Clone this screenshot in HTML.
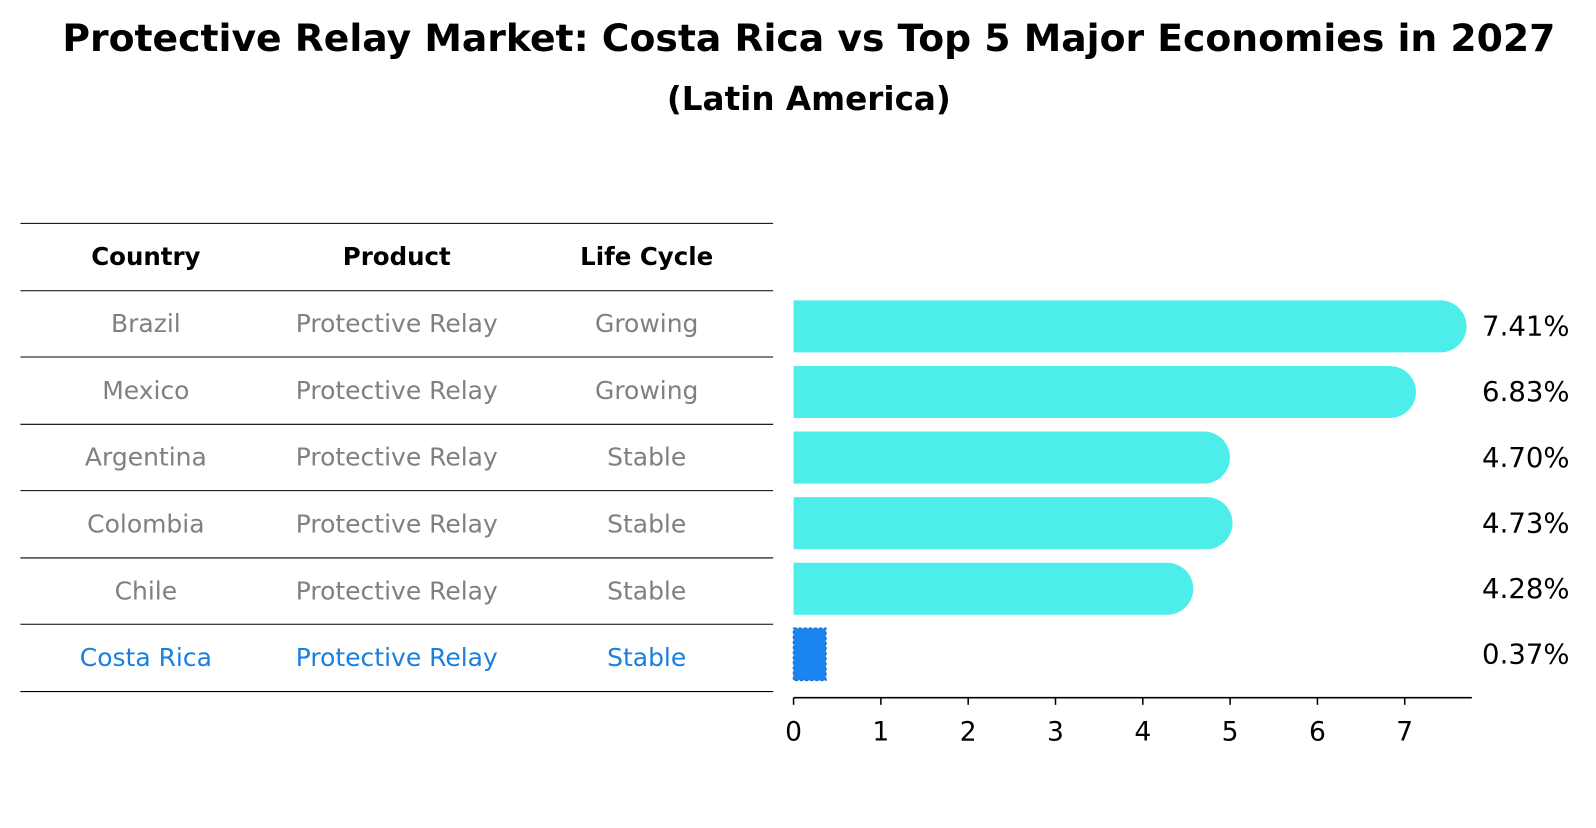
<!DOCTYPE html>
<html><head><meta charset="utf-8"><style>
body{margin:0;background:#fff;font-family:"Liberation Sans","DejaVu Sans",sans-serif;}
svg text{font-family:"DejaVu Sans","Liberation Sans",sans-serif;}
</style></head><body>
<svg width="1596" height="823" xmlns="http://www.w3.org/2000/svg">
<g transform="scale(1.02)">
<text x="793" y="50" text-anchor="middle" font-size="37" font-weight="bold">Protective Relay Market: Costa Rica vs Top 5 Major Economies in 2027</text>
<text x="793" y="108" text-anchor="middle" font-size="32" font-weight="bold">(Latin America)</text>
<g id="table"></g>
<g id="bars"></g>
</g>
</svg>
<script>
const countries=["Brazil","Mexico","Argentina","Colombia","Chile","Costa Rica"];
const products=["Protective Relay","Protective Relay","Protective Relay","Protective Relay","Protective Relay","Protective Relay"];
const lifeCycles=["Growing","Growing","Stable","Stable","Stable","Stable"];
const values=[7.41,6.83,4.70,4.73,4.28,0.37];
const ticks=[0,1,2,3,4,5,6,7];
const NS="http://www.w3.org/2000/svg";
function mk(tag,attrs,parent,text){const e=document.createElementNS(NS,tag);for(const k in attrs)e.setAttribute(k,attrs[k]);if(text!==undefined)e.textContent=text;parent.appendChild(e);return e;}
const tbl=document.getElementById('table');
const lineYs=[219,285,350,416,481,547,612,678];
lineYs.forEach(y=>{const l=mk('line',{x1:20,x2:758,y1:y,y2:y,stroke:'#000','stroke-width':1},tbl);

});
const colX=[143,389,634];
["Country","Product","Life Cycle"].forEach((h,i)=>{const t=mk('text',{x:colX[i],y:260,'text-anchor':'middle','font-size':24,'font-weight':'bold'},tbl,h);

});
countries.forEach((c,r)=>{const y=(lineYs[r+1]+lineYs[r+2])/2+8;const col=r===countries.length-1?'#1a7fe0':'#808080';
[c,products[r],lifeCycles[r]].forEach((v,i)=>{const t=mk('text',{x:colX[i],y:y,'text-anchor':'middle','font-size':24.5,fill:col},tbl,v);

});});
const g=document.getElementById('bars');
const x0=778,unit=85.6;const xs=v=>x0+v*unit;
const rowY=r=>320+r*64.3;const bh=51;
values.forEach((v,r)=>{const cy=rowY(r);const last=r===values.length-1;let b;
if(last){b=mk('rect',{x:x0,y:cy-bh/2,width:xs(v)-x0,height:bh,fill:'#1a84f0',stroke:'#1a6fd0','stroke-dasharray':'3,2','stroke-width':1.5},g);}
else{const xe=xs(v),rr=bh/2;b=mk('path',{d:`M${x0},${cy-rr} H${xe} A${rr},${rr} 0 0 1 ${xe},${cy+rr} H${x0} Z`,fill:'#4deeea'},g);}


const t=mk('text',{x:1453,y:cy+9,'font-size':27},g,values[r].toFixed(2)+'%');

});
const ax=mk('line',{x1:x0,x2:1443,y1:684,y2:684,stroke:'#000','stroke-width':1.5},g);


ticks.forEach(tk=>{const tl=mk('line',{x1:xs(tk),x2:xs(tk),y1:684,y2:691,stroke:'#000','stroke-width':1.5},g);


const t=mk('text',{x:xs(tk),y:726,'text-anchor':'middle','font-size':26},g,String(tk));

});
</script>
</body></html>
